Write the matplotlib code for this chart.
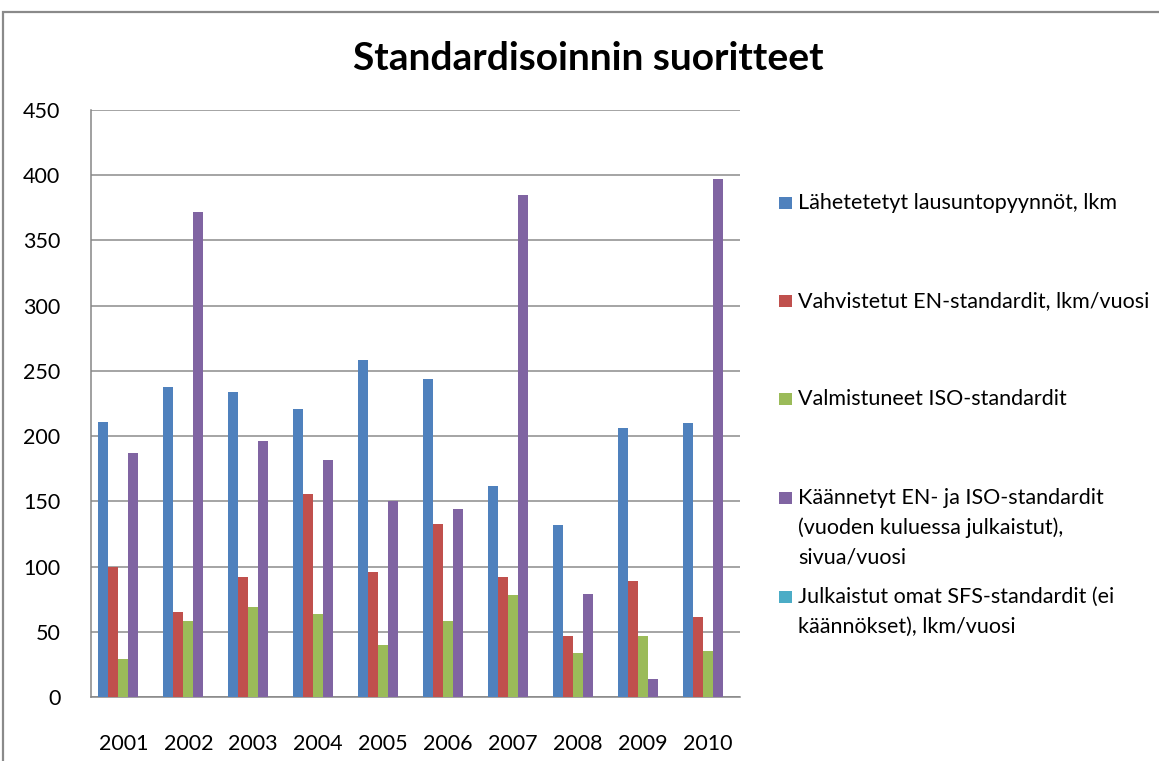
import matplotlib
matplotlib.use("Agg")
import matplotlib.pyplot as plt
import numpy as np
from matplotlib.patches import Rectangle

years = ["2001", "2002", "2003", "2004", "2005", "2006", "2007", "2008", "2009", "2010"]
lahetetyt = [211, 238, 234, 221, 258, 244, 162, 132, 206, 210]
vahvistetut = [100, 65, 92, 156, 96, 133, 92, 47, 89, 61]
valmistuneet = [29, 58, 69, 64, 40, 58, 78, 34, 47, 35]
kaannetyt = [187, 372, 196, 182, 150, 144, 385, 79, 14, 397]
julkaistut = [0, 0, 0, 0, 0, 0, 0, 0, 0, 0]

series_labels = [
    "Lähetetetyt lausuntopyynnöt, lkm",
    "Vahvistetut EN-standardit, lkm/vuosi",
    "Valmistuneet ISO-standardit",
    "Käännetyt EN- ja ISO-standardit\n(vuoden kuluessa julkaistut),\nsivua/vuosi",
    "Julkaistut omat SFS-standardit (ei\nkäännökset), lkm/vuosi",
]
colors = ["#4F81BD", "#C0504D", "#9BBB59", "#8064A2", "#4BACC6"]
title = "Standardisoinnin suoritteet"
yticks = [0, 50, 100, 150, 200, 250, 300, 350, 400, 450]

plt.rcParams['font.family'] = ['Lato', 'DejaVu Sans']

W, H = 1159, 761
fig = plt.figure(figsize=(W / 100, H / 100), dpi=100)
ax = fig.add_axes([91 / W, 1 - 697 / H, (740 - 91) / W, (697 - 110) / H])

data = [lahetetyt, vahvistetut, valmistuneet, kaannetyt, julkaistut]
x = np.arange(len(years))
n = len(data)
w = 1 / 6.5
for k, vals in enumerate(data):
    ax.bar(x + (k - (n - 1) / 2) * w, vals, width=w, color=colors[k],
           linewidth=0, zorder=3)

ax.set_xlim(-0.5, len(years) - 0.5)
ax.set_ylim(0, 450)
ax.set_yticks(yticks)
ax.set_xticks(x)
ax.set_xticklabels(years)
ax.tick_params(axis="x", length=0, labelsize=15.5, pad=27)
ax.tick_params(axis="y", length=0, labelsize=15.5, pad=22)
ax.yaxis.grid(True, color="#8C8C8C", linewidth=1.1, zorder=0)
for s in ["top", "right"]:
    ax.spines[s].set_visible(False)
for s in ["left", "bottom"]:
    ax.spines[s].set_color("#868686")
    ax.spines[s].set_linewidth(1.1)

fig.text(588 / W, 1 - 58 / H, title, ha="center", va="center",
         fontsize=28, fontweight="bold")

# legend (manual placement, Excel style)
entry_y = [203, 301, 399, 498, 597]
for k, lab in enumerate(series_labels):
    yc = entry_y[k]
    fig.patches.append(Rectangle((779 / W, 1 - (yc + 6) / H), 13 / W, 12 / H,
                                 transform=fig.transFigure, facecolor=colors[k],
                                 edgecolor="none"))
    fig.text(798 / W, 1 - (yc - 10) / H, lab, ha="left", va="top", fontsize=15.5,
             linespacing=1.59)

# outer chart border
fig.patches.append(Rectangle((3 / W, -0.02), 1.05, 1 - 12 / H + 0.02,
                             transform=fig.transFigure, facecolor="none",
                             edgecolor="#8A8A8A", linewidth=1.6, clip_on=False))

fig.savefig("out.png", dpi=100)
